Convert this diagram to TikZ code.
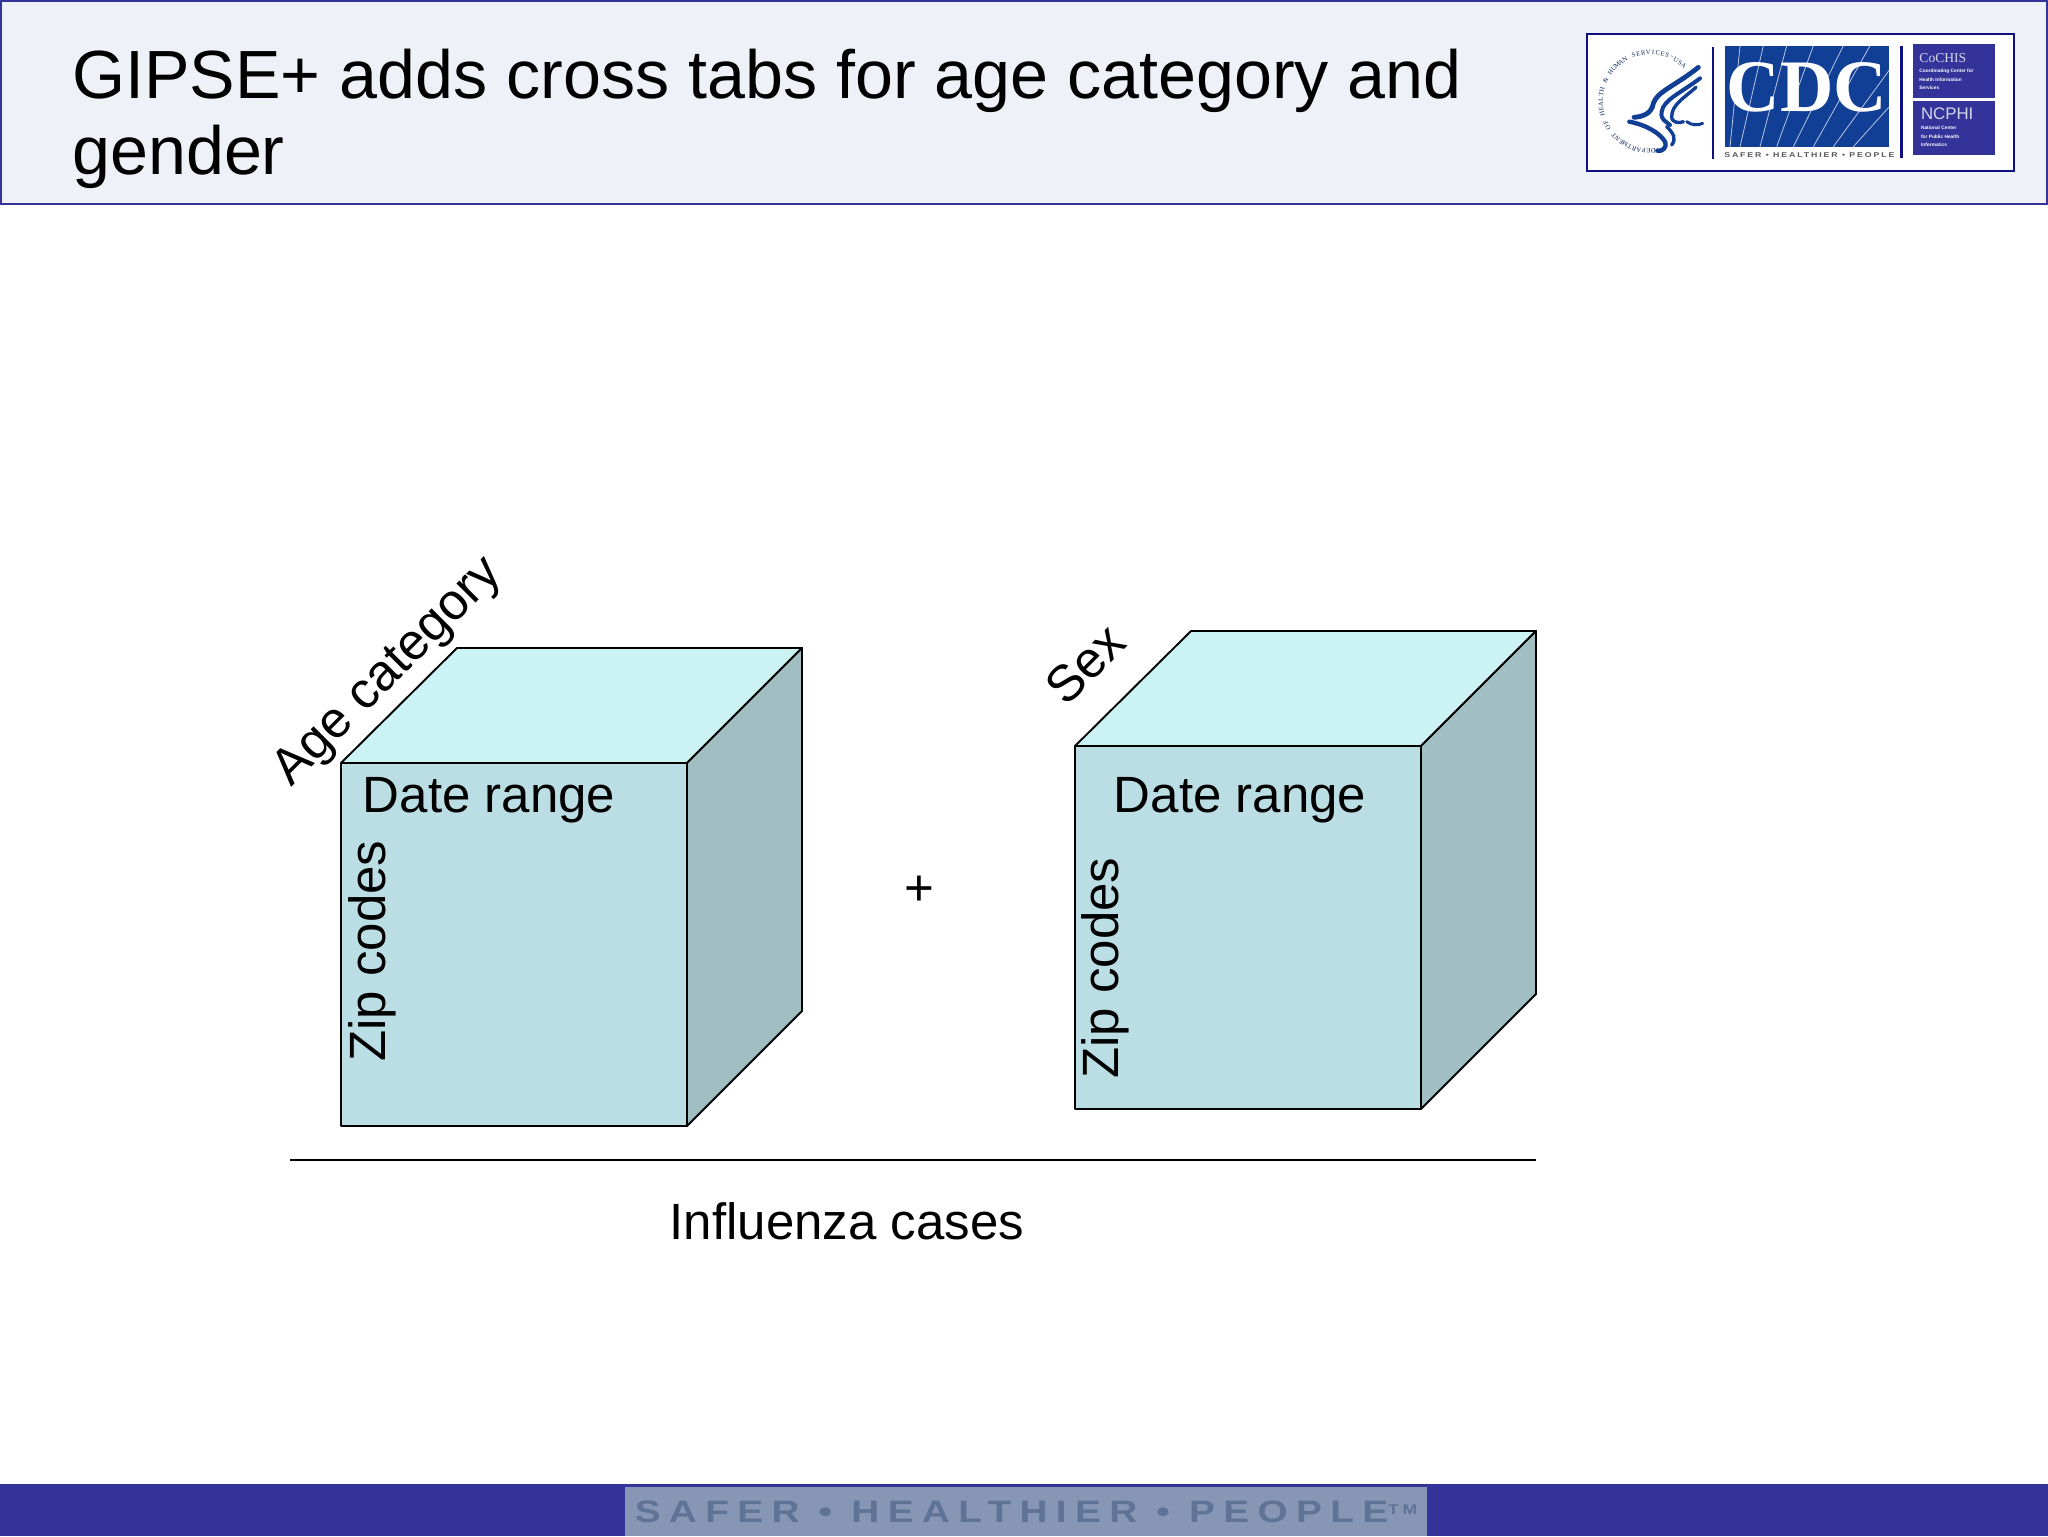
\documentclass[tikz,border=0pt]{standalone}
\usepackage{fontspec}
\setmainfont{Liberation Sans}
\newfontfamily\serifx{Liberation Serif}
\newfontfamily\spacedfont[LetterSpace=27,FakeStretch=1.25]{Liberation Sans Bold}
\definecolor{navy}{HTML}{333399}
\definecolor{headfill}{HTML}{EEF2F8}
\definecolor{topface}{HTML}{CCF3F4}
\definecolor{frontface}{HTML}{BADEE3}
\definecolor{sideface}{HTML}{A1BFC3}
\definecolor{cdcblue}{HTML}{123F96}
\definecolor{banner}{HTML}{8896B5}
\definecolor{bannertext}{HTML}{5F7396}
\definecolor{logoline}{HTML}{10107F}
\tikzset{
  x=0.5pt,y=-0.5pt,
  face/.style={draw=black,line width=0.95pt,line join=round},
  titletext/.style={anchor=base west,inner sep=0,font=\fontsize{34.1}{40}\selectfont,text=black},
  bodytext/.style={inner sep=0,font=\fontsize{25.5}{30}\selectfont,text=black},
  birdline/.style={draw=cdcblue,line width=2pt,line cap=round},
  logotiny/.style={anchor=west,inner sep=0,text=white,font=\bfseries\fontsize{2.4}{3}\selectfont},
  logobig/.style={anchor=west,inner sep=0,text=white!80!navy,font=\serifx\fontsize{6.8}{8}\selectfont},
  sealchar/.style={inner sep=0,font=\serifx\fontsize{3.3}{4}\selectfont,text=cdcblue!60!black},
}
\begin{document}
\begin{tikzpicture}
\useasboundingbox (0,0) rectangle (2048,1536);
\fill[white] (0,0) rectangle (2048,1536);
% header
\draw[fill=headfill,draw=navy,line width=1pt] (1,1) rectangle (2047,204);
\node[titletext] (title1) at (72,98) {GIPSE+ adds cross tabs for age category and};
\node[titletext] (title2) at (72,174) {gender};
% logo
\draw[fill=white,draw=logoline,line width=1pt] (1587,34) rectangle (2014,171);
\begin{scope}[shift={(1560,10)},x=0.16667pt,y=-0.16667pt]
  \draw[birdline,line width=2.4pt] (415,172) .. controls (350,225) and (290,245) .. (280,280) .. controls (275,310) and (250,320) .. (222,322);
  \draw[birdline,line width=2pt] (420,205) .. controls (360,250) and (310,270) .. (305,305) .. controls (300,330) and (320,335) .. (330,345);
  \draw[birdline,line width=1.7pt] (408,232) .. controls (370,265) and (335,285) .. (335,320) .. controls (335,340) and (360,340) .. (370,335);
  \draw[birdline,line width=2.2pt] (208,335) .. controls (260,345) and (300,370) .. (315,395) .. controls (322,415) and (305,425) .. (292,422);
  \draw[birdline,line width=1.7pt] (320,350) .. controls (340,370) and (350,385) .. (335,405);
  \draw[birdline,line width=1.5pt] (380,335) .. controls (395,345) and (410,348) .. (428,340);
  \fill[cdcblue] (494,107) rectangle (988,410);
  \draw[white!70!cdcblue,line width=0.4pt]
    (540,410) -- (610,107) (600,410) -- (680,107) (650,410) -- (760,107)
    (700,410) -- (850,107) (760,410) -- (930,107) (820,410) -- (988,180)
    (880,410) -- (988,290) (510,410) -- (540,107);
  \node[inner sep=0,text=white,font=\serifx\bfseries\fontsize{37}{37}\selectfont] (cdc) at (741,232) {CDC};
  \node[inner sep=0,text=black!65,font=\spacedfont\fontsize{3.5}{5}\selectfont] (cdcsafer) at (748,436) {SAFER • HEALTHIER • PEOPLE};
  \fill[logoline] (455,110) rectangle (463,447);
  \fill[logoline] (1021,107) rectangle (1029,443);
  \fill[navy] (1060,103) rectangle (1306,265);
  \fill[navy] (1060,272) rectangle (1306,435);
  \node[logobig] (coches) at (1077,143) {CoCHIS};
  \node[logotiny] (c1) at (1077,183) {Coordinating Center for};
  \node[logotiny] (c2) at (1077,208) {Health Information};
  \node[logotiny] (c3) at (1077,234) {Services};
  \node[logobig,font=\fontsize{8.4}{9}\selectfont] (ncphi) at (1082,312) {NCPHI};
  \node[logotiny] (n1) at (1082,354) {National Center};
  \node[logotiny] (n2) at (1082,380) {for Public Health};
  \node[logotiny] (n3) at (1082,405) {Informatics};
  % seal lettering, one character at a time along the circle
  \foreach \ch [count=\i] in {D,E,P,A,R,T,M,E,N,T,{ },O,F,{ },H,E,A,L,T,H,{ },\&,{ },H,U,M,A,N,{ },S,E,R,V,I,C,E,S,-,U,S,A}{
    \pgfmathsetmacro{\ang}{274-(\i-1)*5.68}
    \pgfmathsetmacro{\px}{270+148*cos(\ang)}
    \pgfmathsetmacro{\py}{275-148*sin(\ang)}
    \node[sealchar,rotate=\ang-90] at (\px,\py) {\ch};
  }
\end{scope}
% cube 1
\coordinate (a1) at (341,763); \coordinate (a2) at (687,763);
\coordinate (a3) at (687,1126); \coordinate (a4) at (341,1126);
\coordinate (a5) at (457,648); \coordinate (a6) at (802,648); \coordinate (a7) at (802,1011);
\draw[face,fill=frontface] (a1) -- (a2) -- (a3) -- (a4) -- cycle;
\draw[face,fill=topface] (a1) -- (a5) -- (a6) -- (a2) -- cycle;
\draw[face,fill=sideface] (a2) -- (a6) -- (a7) -- (a3) -- cycle;
% cube 2
\coordinate (b1) at (1075,746); \coordinate (b2) at (1421,746);
\coordinate (b3) at (1421,1109); \coordinate (b4) at (1075,1109);
\coordinate (b5) at (1191,631); \coordinate (b6) at (1536,631); \coordinate (b7) at (1536,994);
\draw[face,fill=frontface] (b1) -- (b2) -- (b3) -- (b4) -- cycle;
\draw[face,fill=topface] (b1) -- (b5) -- (b6) -- (b2) -- cycle;
\draw[face,fill=sideface] (b2) -- (b6) -- (b7) -- (b3) -- cycle;
% labels
\node[bodytext,rotate=45] (age) at (389,673) {Age category};
\node[bodytext,rotate=45] (sex) at (1085,664) {Sex};
\node[bodytext,anchor=base] (date1) at (489,812) {Date range};
\node[bodytext,anchor=base] (date2) at (1240,812) {Date range};
\node[bodytext,rotate=90] (zip1) at (372,951) {Zip codes};
\node[bodytext,rotate=90] (zip2) at (1105,968) {Zip codes};
\node[bodytext] (plus) at (919,891) {+};
\coordinate (ruleL) at (290,1160); \coordinate (ruleR) at (1536,1160);
\draw[black,line width=1pt] (ruleL) -- (ruleR);
\node[bodytext,anchor=base] (flu) at (847,1239) {Influenza cases};
% footer
\fill[navy] (0,1484) rectangle (2048,1536);
\fill[banner] (625,1487) rectangle (1427,1536);
\node[inner sep=0,anchor=base,text=bannertext,font=\spacedfont\fontsize{15.5}{16}\selectfont] (safer) at (1026,1522) {SAFER • HEALTHIER • PEOPLE\raisebox{4pt}{\fontsize{7}{7}\selectfont TM}};
\end{tikzpicture}
\end{document}
